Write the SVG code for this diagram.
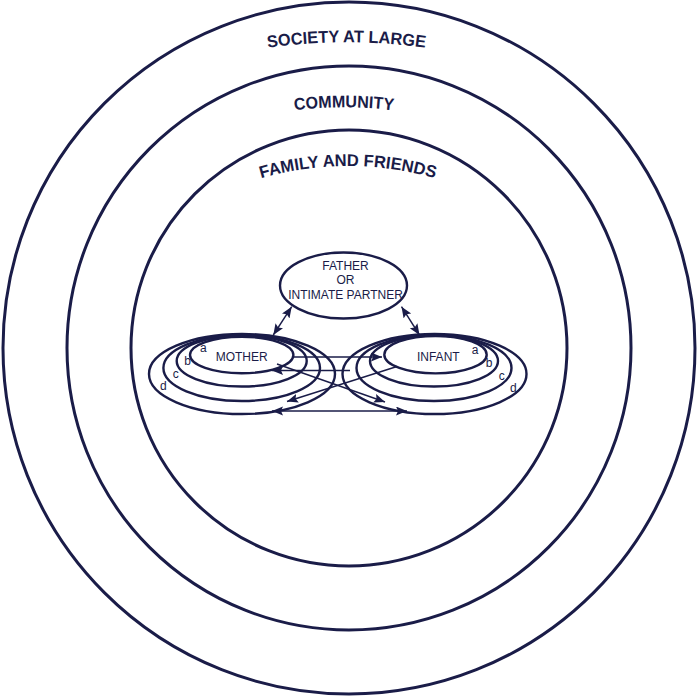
<svg xmlns="http://www.w3.org/2000/svg" width="698" height="698" viewBox="0 0 698 698">
<style>
.ring{fill:none;stroke:#1a1c48;stroke-width:3}
.el{fill:none;stroke:#1a1c48;stroke-width:2.4}
.lbl{font-family:"Liberation Sans",Arial,Helvetica,sans-serif;font-weight:bold;font-size:17px;fill:#1a1c48}
.t{font-family:"Liberation Sans",Arial,Helvetica,sans-serif;font-size:12px;fill:#1a1c48;text-anchor:middle}
.s{font-family:"Liberation Sans",Arial,Helvetica,sans-serif;font-size:12px;fill:#1a1c48;text-anchor:middle}
.c{fill:none;stroke:#1a1c48;stroke-width:1.4}
</style>
<defs>
<marker id="ah" markerUnits="userSpaceOnUse" markerWidth="13" markerHeight="10" refX="11" refY="4.5" orient="auto-start-reverse">
<path d="M0,0 L11,4.5 L0,9 L2,4.5 z" fill="#1a1c48"/>
</marker>
<path id="p1" d="M 246.5 51.1 A 570 570 0 0 1 446.5 51.1"/>
<path id="p2" d="M 274 113.5 A 400 400 0 0 1 414 113.5"/>
<path id="p3" d="M 238 186 A 312 312 0 0 1 458 186"/>
</defs>
<rect width="698" height="698" fill="#ffffff"/>
<g id="society">
<circle class="ring" cx="349" cy="348" r="346"/>
<text class="lbl"><textPath href="#p1" startOffset="50%" text-anchor="middle" textLength="158" lengthAdjust="spacingAndGlyphs">SOCIETY AT LARGE</textPath></text>
</g>
<g id="community">
<circle class="ring" cx="349" cy="348" r="282"/>
<text class="lbl"><textPath href="#p2" startOffset="50%" text-anchor="middle" textLength="99" lengthAdjust="spacingAndGlyphs">COMMUNITY</textPath></text>
</g>
<g id="family">
<circle class="ring" cx="349" cy="348" r="218"/>
<text class="lbl"><textPath href="#p3" startOffset="50%" text-anchor="middle" textLength="176" lengthAdjust="spacingAndGlyphs">FAMILY AND FRIENDS</textPath></text>
</g>
<g id="father">
<ellipse class="el" cx="343.5" cy="285.5" rx="63.5" ry="33"/>
<text class="t" x="345.5" y="269.5">FATHER</text>
<text class="t" x="345.5" y="284">OR</text>
<text class="t" x="345.5" y="298.5">INTIMATE PARTNER</text>
</g>
<g id="mother">
<ellipse class="el" cx="242" cy="374" rx="93" ry="40"/>
<ellipse class="el" cx="241.7" cy="368" rx="78.3" ry="33"/>
<ellipse class="el" cx="241.7" cy="361" rx="65" ry="25.5"/>
<ellipse class="el" cx="241.7" cy="355" rx="51.7" ry="18.3"/>
<text class="t" x="241.7" y="360.7">MOTHER</text>
<text class="s" x="203.3" y="351.7">a</text>
<text class="s" x="187.7" y="365">b</text>
<text class="s" x="175.7" y="377.5">c</text>
<text class="s" x="163.3" y="389.5">d</text>
</g>
<g id="infant">
<ellipse class="el" cx="434.5" cy="374" rx="92" ry="40"/>
<ellipse class="el" cx="434" cy="368" rx="77.5" ry="33"/>
<ellipse class="el" cx="434" cy="361" rx="64" ry="25.5"/>
<ellipse class="el" cx="435.5" cy="354.7" rx="51.2" ry="18.7"/>
<text class="t" x="438.3" y="360.7">INFANT</text>
<text class="s" x="475" y="353.5">a</text>
<text class="s" x="489" y="367">b</text>
<text class="s" x="501.7" y="380">c</text>
<text class="s" x="513.3" y="392">d</text>
</g>
<g id="connectors">
<line class="c" x1="291.7" y1="306.7" x2="273.3" y2="335" marker-start="url(#ah)" marker-end="url(#ah)"/>
<line class="c" x1="401.5" y1="306.7" x2="419.5" y2="335" marker-start="url(#ah)" marker-end="url(#ah)"/>
<line class="c" x1="293.3" y1="357" x2="382" y2="357" marker-end="url(#ah)"/>
<line class="c" x1="350" y1="370.5" x2="272" y2="370.5" marker-end="url(#ah)"/>
<line class="c" x1="277" y1="364" x2="385" y2="402" marker-end="url(#ah)"/>
<line class="c" x1="397" y1="366.5" x2="287" y2="401.5" marker-end="url(#ah)"/>
<line class="c" x1="272" y1="411" x2="407" y2="411" marker-start="url(#ah)" marker-end="url(#ah)"/>
</g>
</svg>
